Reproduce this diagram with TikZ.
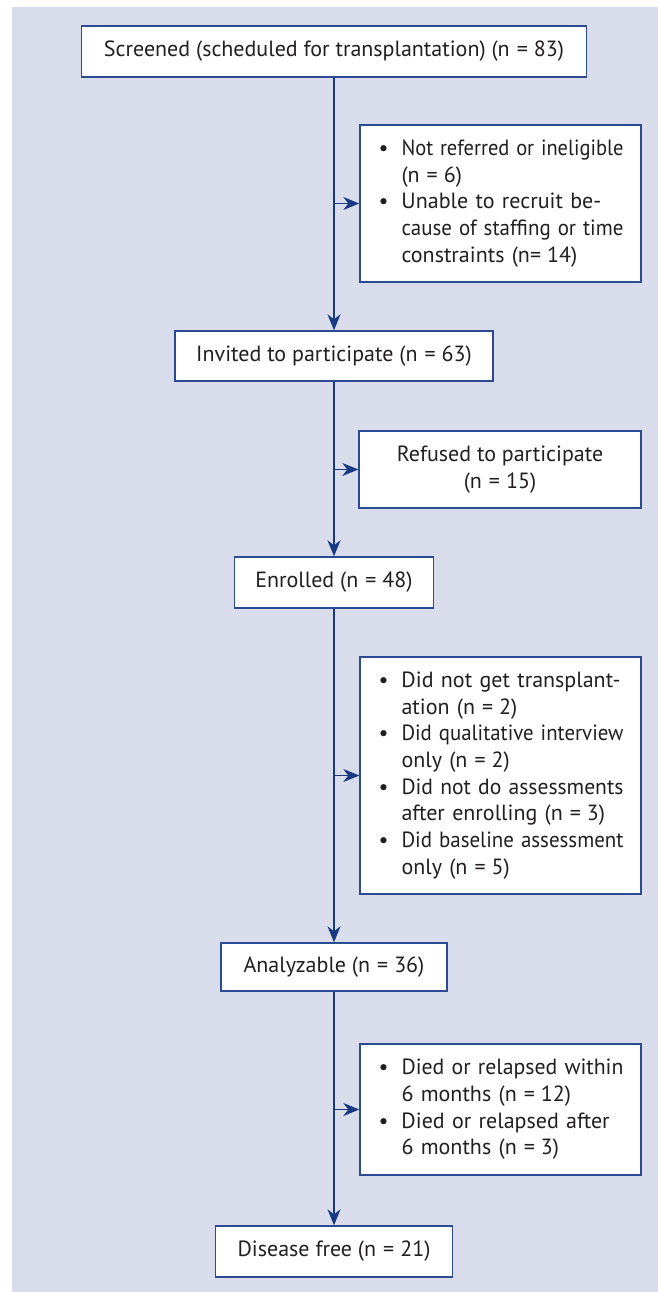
\documentclass[tikz,border=0pt]{standalone}
\usepackage{fontspec}
\usepackage{graphicx}
\setmainfont{PT Sans}
\usetikzlibrary{arrows.meta}
\definecolor{bgc}{HTML}{D9DCEB}
\definecolor{bdc}{HTML}{2A4B92}
\definecolor{arc}{HTML}{183A84}
\definecolor{txc}{HTML}{231F20}
\newcommand{\fs}{\fontsize{22}{26.7}\selectfont}
\newsavebox{\jlbox}
\newcommand{\jl}[1]{\sbox{\jlbox}{#1}\ifdim\wd\jlbox>222pt\relax\resizebox{222pt}{\height}{\usebox{\jlbox}}\else\makebox[222pt][s]{#1}\fi}
\newcommand{\bl}{\hspace{1pt}\textbullet}
\newcommand{\eq}{\hspace{7pt}=\hspace{6pt}}
\tikzset{
  box/.style={draw=bdc, line width=1.4pt, fill=white, text=txc, inner sep=0pt, align=center, font=\fs},
  listbox/.style={box, text width=246pt, align=left},
  arr/.style={draw=arc, line width=1.4pt, -{Stealth[length=16pt,width=13pt,inset=5pt]}}
}
\begin{document}
\begin{tikzpicture}[x=1pt,y=-1pt]
\useasboundingbox (0,0) rectangle (658,1292);
\fill[bgc] (12,7) rectangle (658,1292);

\node[box, minimum width=505pt, minimum height=51pt] (screened) at (334,51.5)
  {Screened (scheduled for transplantation) (n\eq 83)};
\node[listbox, minimum width=281pt, minimum height=157pt] (excl1) at (500.5,203.5)
  {\begin{tabular}{@{}p{24pt}@{}l@{}}
   \bl & \jl{Not referred or ineligible}\\
       & (n\eq 6)\\
   \bl & \jl{Unable to recruit be-}\\
       & \jl{cause of staffing or time}\\
       & constraints (n=\hspace{6pt}14)
   \end{tabular}};
\node[box, minimum width=318pt, minimum height=50pt] (invited) at (334,356)
  {Invited to participate (n\eq 63)};
\node[box, minimum width=282pt, minimum height=77pt] (refused) at (500,469.5)
  {Refused to participate\\(n\eq 15)};
\node[box, minimum width=199pt, minimum height=51pt] (enrolled) at (334,582.5)
  {Enrolled (n\eq 48)};
\node[listbox, minimum width=281pt, minimum height=237pt] (excl3) at (500.5,775.5)
  {\begin{tabular}{@{}p{24pt}@{}l@{}}
   \bl & \jl{Did not get transplant-}\\
       & ation (n\eq 2)\\
   \bl & \jl{Did qualitative interview}\\
       & only (n\eq 2)\\
   \bl & \jl{Did not do assessments}\\
       & after enrolling (n\eq 3)\\
   \bl & \jl{Did baseline assessment}\\
       & only (n\eq 5)
   \end{tabular}};
\node[box, minimum width=226pt, minimum height=48pt] (analyzable) at (334,967)
  {Analyzable (n\eq 36)};
\node[listbox, minimum width=281pt, minimum height=131pt] (excl4) at (500.5,1109.5)
  {\begin{tabular}{@{}p{24pt}@{}l@{}}
   \bl & \jl{Died or relapsed within}\\
       & 6 months (n\eq 12)\\
   \bl & \jl{Died or relapsed after}\\
       & 6 months (n\eq 3)
   \end{tabular}};
\node[box, minimum width=237pt, minimum height=51pt] (disease) at (334,1251.5)
  {Disease free (n\eq 21)};

\draw[arr] (screened) -- (invited);
\draw[arr] (invited) -- (enrolled);
\draw[arr] (enrolled) -- (analyzable);
\draw[arr] (analyzable) -- (disease);
\draw[arr] (screened.south |- excl1.west) -- (excl1.west);
\draw[arr] (invited.south |- refused.west) -- (refused.west);
\draw[arr] (enrolled.south |- excl3.west) -- (excl3.west);
\draw[arr] (analyzable.south |- excl4.west) -- (excl4.west);
\end{tikzpicture}
\end{document}
